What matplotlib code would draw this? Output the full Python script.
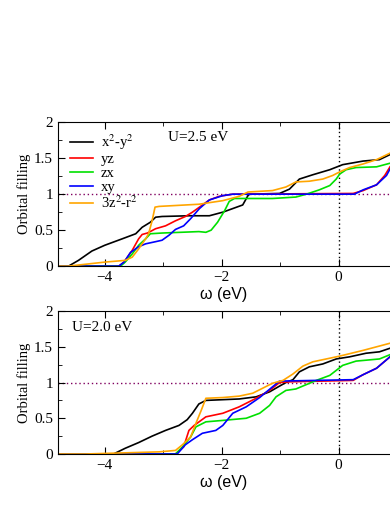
import matplotlib
matplotlib.use("Agg")
import matplotlib.pyplot as plt
from matplotlib.ticker import MultipleLocator

plt.rcParams['font.family'] = ['Liberation Serif', 'DejaVu Serif']
plt.rcParams['mathtext.fontset'] = 'stix'

# orbital names and colours
labels = [r'x$^2$-y$^2$', 'yz', 'zx', 'xy', r'3z$^2$-r$^2$']
colors = ['black', '#ff0000', '#00e000', '#0000ff', '#ffa500']

# U=2.5 eV panel  (omega, filling)
u25_x2y2_w = [-4.8, -4.62, -4.45, -4.22, -4.0, -3.70, -3.47, -3.36, -3.22, -3.13, -3.02, -2.55, -2.21, -1.98, -1.81, -1.64, -1.55, -1.52, -1.01, -0.84, -0.67, -0.44, -0.15, 0.07, 0.42, 0.70, 0.88]
u25_x2y2_n = [0.0, 0.0, 0.08, 0.21, 0.29, 0.38, 0.45, 0.54, 0.61, 0.68, 0.69, 0.70, 0.70, 0.75, 0.80, 0.85, 0.98, 1.0, 1.01, 1.07, 1.21, 1.27, 1.34, 1.41, 1.46, 1.48, 1.55]
u25_yz_w = [-4.8, -3.76, -3.67, -3.53, -3.42, -3.36, -3.27, -3.13, -2.96, -2.79, -2.62, -2.50, -2.38, -2.21, -2.04, -1.81, 0.25, 0.42, 0.65, 0.79, 0.88]
u25_yz_n = [0.0, 0.0, 0.056, 0.22, 0.38, 0.44, 0.46, 0.52, 0.56, 0.63, 0.69, 0.75, 0.82, 0.92, 0.97, 1.0, 1.01, 1.05, 1.13, 1.26, 1.38]
u25_zx_w = [-4.8, -3.73, -3.65, -3.53, -3.42, -3.30, -3.22, -3.02, -2.39, -2.27, -2.18, -2.07, -1.95, -1.87, -1.78, -1.13, -0.73, -0.55, -0.33, -0.15, -0.04, 0.02, 0.13, 0.30, 0.65, 0.88]
u25_zx_n = [0.0, 0.0, 0.056, 0.17, 0.29, 0.38, 0.45, 0.46, 0.48, 0.47, 0.50, 0.61, 0.77, 0.90, 0.94, 0.94, 0.96, 1.0, 1.06, 1.12, 1.21, 1.28, 1.34, 1.37, 1.38, 1.43]
u25_xy_w = [-4.8, -3.76, -3.67, -3.56, -3.42, -3.30, -3.13, -3.02, -2.90, -2.79, -2.65, -2.53, -2.38, -2.21, -1.98, -1.81, 0.27, 0.42, 0.65, 0.82, 0.88]
u25_xy_n = [0.0, 0.0, 0.056, 0.19, 0.27, 0.31, 0.34, 0.36, 0.43, 0.51, 0.56, 0.66, 0.80, 0.92, 0.98, 1.0, 1.0, 1.06, 1.13, 1.26, 1.35]
u25_3z2_w = [-4.8, -4.62, -4.0, -3.65, -3.53, -3.42, -3.30, -3.25, -3.19, -3.14, -3.07, -2.39, -1.98, -1.70, -1.55, -1.13, -0.90, -0.73, -0.50, -0.27, -0.10, 0.02, 0.19, 0.42, 0.65, 0.88]
u25_3z2_n = [0.0, 0.0, 0.056, 0.08, 0.125, 0.24, 0.38, 0.45, 0.63, 0.82, 0.83, 0.86, 0.91, 0.97, 1.03, 1.05, 1.10, 1.17, 1.18, 1.21, 1.26, 1.31, 1.37, 1.42, 1.48, 1.57]

# U=2.0 eV panel
u20_x2y2_w = [-4.8, -3.85, -3.65, -3.42, -3.19, -2.96, -2.73, -2.59, -2.50, -2.39, -2.27, -1.70, -1.41, -1.18, -1.01, -0.90, -0.78, -0.67, -0.50, -0.27, -0.04, 0.19, 0.47, 0.70, 0.88]
u20_x2y2_n = [0.0, 0.0, 0.08, 0.16, 0.25, 0.33, 0.40, 0.48, 0.57, 0.70, 0.75, 0.77, 0.80, 0.87, 0.95, 1.0, 1.04, 1.15, 1.22, 1.26, 1.33, 1.36, 1.41, 1.43, 1.48]
u20_yz_w = [-4.8, -2.79, -2.65, -2.56, -2.47, -2.27, -1.98, -1.70, -1.41, -1.18, -1.01, -0.84, 0.25, 0.42, 0.65, 0.88]
u20_yz_n = [0.0, 0.0, 0.10, 0.33, 0.40, 0.52, 0.57, 0.66, 0.78, 0.89, 1.0, 1.01, 1.03, 1.11, 1.20, 1.36]
u20_zx_w = [-4.8, -2.79, -2.67, -2.53, -2.44, -2.27, -1.98, -1.58, -1.35, -1.18, -1.07, -0.90, -0.73, -0.38, -0.15, -0.04, 0.07, 0.30, 0.70, 0.88]
u20_zx_n = [0.0, 0.0, 0.10, 0.24, 0.38, 0.45, 0.47, 0.50, 0.57, 0.68, 0.80, 0.89, 0.91, 1.03, 1.10, 1.17, 1.24, 1.30, 1.33, 1.39]
u20_xy_w = [-4.8, -2.76, -2.62, -2.50, -2.33, -2.10, -1.98, -1.81, -1.58, -1.35, -1.13, -1.01, 0.25, 0.42, 0.65, 0.88]
u20_xy_n = [0.0, 0.0, 0.13, 0.20, 0.29, 0.33, 0.40, 0.57, 0.66, 0.79, 0.94, 1.02, 1.04, 1.11, 1.20, 1.36]
u20_3z2_w = [-4.8, -4.33, -3.07, -2.79, -2.67, -2.53, -2.44, -2.35, -2.27, -1.98, -1.70, -1.47, -1.30, -1.13, -0.95, -0.78, -0.61, -0.44, -0.21, 0.02, 0.42, 0.88]
u20_3z2_n = [0.0, 0.0, 0.03, 0.05, 0.13, 0.24, 0.43, 0.61, 0.78, 0.79, 0.81, 0.85, 0.92, 0.99, 1.03, 1.12, 1.23, 1.29, 1.33, 1.37, 1.45, 1.55]

panels = [
    ("U=2.5 eV", (0.331, 0.896),
     [(u25_x2y2_w, u25_x2y2_n), (u25_yz_w, u25_yz_n), (u25_zx_w, u25_zx_n),
      (u25_xy_w, u25_xy_n), (u25_3z2_w, u25_3z2_n)]),
    ("U=2.0 eV", (0.042, 0.885),
     [(u20_x2y2_w, u20_x2y2_n), (u20_yz_w, u20_yz_n), (u20_zx_w, u20_zx_n),
      (u20_xy_w, u20_xy_n), (u20_3z2_w, u20_3z2_n)]),
]

fig = plt.figure(figsize=(3.9, 5.05), dpi=100)
rects = [[0.1487, 0.473, 0.8513, 0.285], [0.1487, 0.101, 0.8513, 0.283]]

for i, (title, tpos, curves) in enumerate(panels):
    ax = fig.add_axes(rects[i])
    # reference lines
    ax.axhline(1.0, color='#800060', ls=(0, (1, 2)), lw=1.0, zorder=1)
    ax.axvline(0.0, color='black', ls=(0, (1, 2)), lw=1.0, zorder=1)
    for (w, n), c, lab in zip(curves, colors, labels):
        ax.plot(w, n, color=c, lw=1.2, label=lab, zorder=2)
    ax.set_xlim(-4.8, 0.88)
    ax.set_ylim(0, 2)
    ax.xaxis.set_major_locator(MultipleLocator(2))
    ax.xaxis.set_minor_locator(MultipleLocator(1))
    ax.yaxis.set_major_locator(MultipleLocator(0.5))
    ax.yaxis.set_minor_locator(MultipleLocator(0.25))
    ax.set_yticks([0, 0.5, 1, 1.5, 2])
    ax.set_yticklabels(['0', '0.5', '1', '1.5', '2'])
    ax.tick_params(which='both', direction='in', top=True, right=False, labelsize=11)
    ax.tick_params(which='major', length=5)
    ax.tick_params(which='minor', length=3)
    ax.spines['right'].set_visible(False)
    ax.set_ylabel('Orbital filling', fontsize=10.5, labelpad=2)
    ax.set_xlabel(u'\u03c9 (eV)', fontsize=11.5, family=['Liberation Sans', 'DejaVu Sans'], labelpad=2)
    ax.text(tpos[0], tpos[1], title, transform=ax.transAxes, fontsize=11,
            ha='left', va='center')
    if i == 0:
        ax.legend(loc='upper left', bbox_to_anchor=(0.01, 0.99), frameon=False,
                  fontsize=10.5, handlelength=1.6, handletextpad=0.5,
                  labelspacing=0.05, borderaxespad=0.2)

fig.savefig('out.png', dpi=100)
